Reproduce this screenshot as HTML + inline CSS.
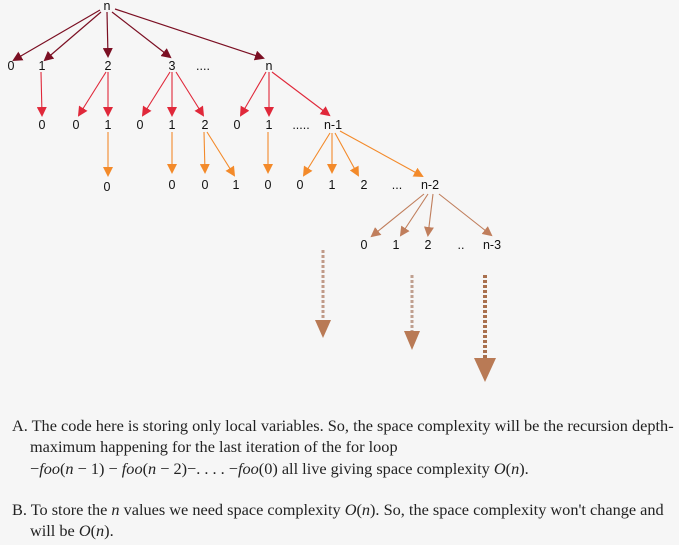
<!DOCTYPE html>
<html><head><meta charset="utf-8"><style>
body{margin:0;width:679px;height:545px;background:#f6f6f6;overflow:hidden;position:relative}
svg{position:absolute;left:0;top:0}
.t{position:absolute;font-family:"Liberation Serif",serif;font-size:16.3px;color:#222;line-height:21px;white-space:nowrap}
i{font-style:italic}
</style></head><body>
<svg width="679" height="400" font-family="Liberation Sans, sans-serif" font-size="12.5" fill="#111">
<defs>
<marker id="m1" markerWidth="10" markerHeight="10" refX="8" refY="5" orient="auto" markerUnits="userSpaceOnUse"><path d="M0,0L10,5L0,10z" fill="#7b0f23"/></marker>
<marker id="m2" markerWidth="10" markerHeight="10" refX="8" refY="5" orient="auto" markerUnits="userSpaceOnUse"><path d="M0,0L10,5L0,10z" fill="#e0283a"/></marker>
<marker id="m3" markerWidth="10" markerHeight="10" refX="8" refY="5" orient="auto" markerUnits="userSpaceOnUse"><path d="M0,0L10,5L0,10z" fill="#f38a2a"/></marker>
<marker id="m4" markerWidth="10" markerHeight="10" refX="8" refY="5" orient="auto" markerUnits="userSpaceOnUse"><path d="M0,0L10,5L0,10z" fill="#c07e5c"/></marker>
</defs>
<g stroke="#7b0f23" stroke-width="1.2" marker-end="url(#m1)">
<line x1="100" y1="10" x2="14" y2="60"/><line x1="101" y1="12" x2="45" y2="60"/><line x1="107" y1="12" x2="108" y2="56"/><line x1="112" y1="12" x2="170" y2="57"/><line x1="115" y1="9" x2="263" y2="58"/>
</g>
<g stroke="#e0283a" stroke-width="1.1" marker-end="url(#m2)">
<line x1="41" y1="72" x2="42" y2="115"/><line x1="106" y1="72" x2="79" y2="115"/><line x1="108" y1="72" x2="108" y2="115"/><line x1="170" y1="72" x2="143" y2="115"/><line x1="172" y1="72" x2="172" y2="115"/><line x1="176" y1="72" x2="203" y2="115"/><line x1="266" y1="72" x2="241" y2="115"/><line x1="269" y1="72" x2="269" y2="115"/><line x1="272" y1="72" x2="329" y2="115"/>
</g>
<g stroke="#f38a2a" stroke-width="1.1" marker-end="url(#m3)">
<line x1="108" y1="132" x2="108" y2="175"/><line x1="172" y1="132" x2="172" y2="172"/><line x1="204" y1="132" x2="205" y2="172"/><line x1="207" y1="132" x2="234" y2="175"/><line x1="268" y1="132" x2="268" y2="172"/><line x1="330" y1="133" x2="304" y2="175"/><line x1="332" y1="133" x2="332" y2="172"/><line x1="335" y1="133" x2="358" y2="175"/><line x1="340" y1="131" x2="422" y2="176"/>
</g>
<g stroke="#c07e5c" stroke-width="1.1" marker-end="url(#m4)">
<line x1="424" y1="194" x2="372" y2="236"/><line x1="428" y1="194" x2="401" y2="235"/><line x1="433" y1="194" x2="428" y2="235"/><line x1="439" y1="194" x2="491" y2="235"/>
</g>
<line x1="323" y1="250" x2="323" y2="320" stroke="#c09a88" stroke-width="3" stroke-dasharray="3,2"/>
<path d="M315,320L331,320L323,338z" fill="#b97a55"/>
<line x1="412" y1="275" x2="412" y2="332" stroke="#c0a090" stroke-width="3" stroke-dasharray="3,2"/>
<path d="M404,331L420,331L412,350z" fill="#b97a55"/>
<line x1="485" y1="275" x2="485" y2="360" stroke="#a8704e" stroke-width="4" stroke-dasharray="3,2"/>
<path d="M474,358L496,358L485,382z" fill="#b97a55"/>
<g text-anchor="middle">
<text x="107" y="10">n</text>
<text x="11" y="70">0</text><text x="42" y="70">1</text><text x="108" y="70">2</text><text x="172" y="70">3</text><text x="203" y="70">....</text><text x="269" y="70">n</text>
<text x="42" y="129">0</text><text x="76" y="129">0</text><text x="108" y="129">1</text><text x="140" y="129">0</text><text x="172" y="129">1</text><text x="205" y="129">2</text><text x="237" y="129">0</text><text x="269" y="129">1</text><text x="301" y="129">.....</text><text x="333" y="129">n-1</text>
<text x="107" y="191">0</text><text x="172" y="189">0</text><text x="205" y="189">0</text><text x="236" y="189">1</text><text x="268" y="189">0</text><text x="300" y="189">0</text><text x="332" y="189">1</text><text x="364" y="189">2</text><text x="397" y="189">...</text><text x="430" y="189">n-2</text>
<text x="364" y="249">0</text><text x="396" y="249">1</text><text x="428" y="249">2</text><text x="461" y="249">..</text><text x="492" y="249">n-3</text>
</g>
</svg>
<div class="t" style="left:12px;top:415px">A. The code here is storing only local variables. So, the space complexity will be the recursion depth-</div>
<div class="t" style="left:30px;top:436px">maximum happening for the last iteration of the for loop</div>
<div class="t" style="left:30px;top:458px">−<i>foo</i>(<i>n</i> − 1) − <i>foo</i>(<i>n</i> − 2)−. . . . −<i>foo</i>(0) all live giving space complexity <i>O</i>(<i>n</i>).</div>
<div class="t" style="left:12px;top:499px">B. To store the <i>n</i> values we need space complexity <i>O</i>(<i>n</i>). So, the space complexity won't change and</div>
<div class="t" style="left:30px;top:520px">will be <i>O</i>(<i>n</i>).</div>
</body></html>
